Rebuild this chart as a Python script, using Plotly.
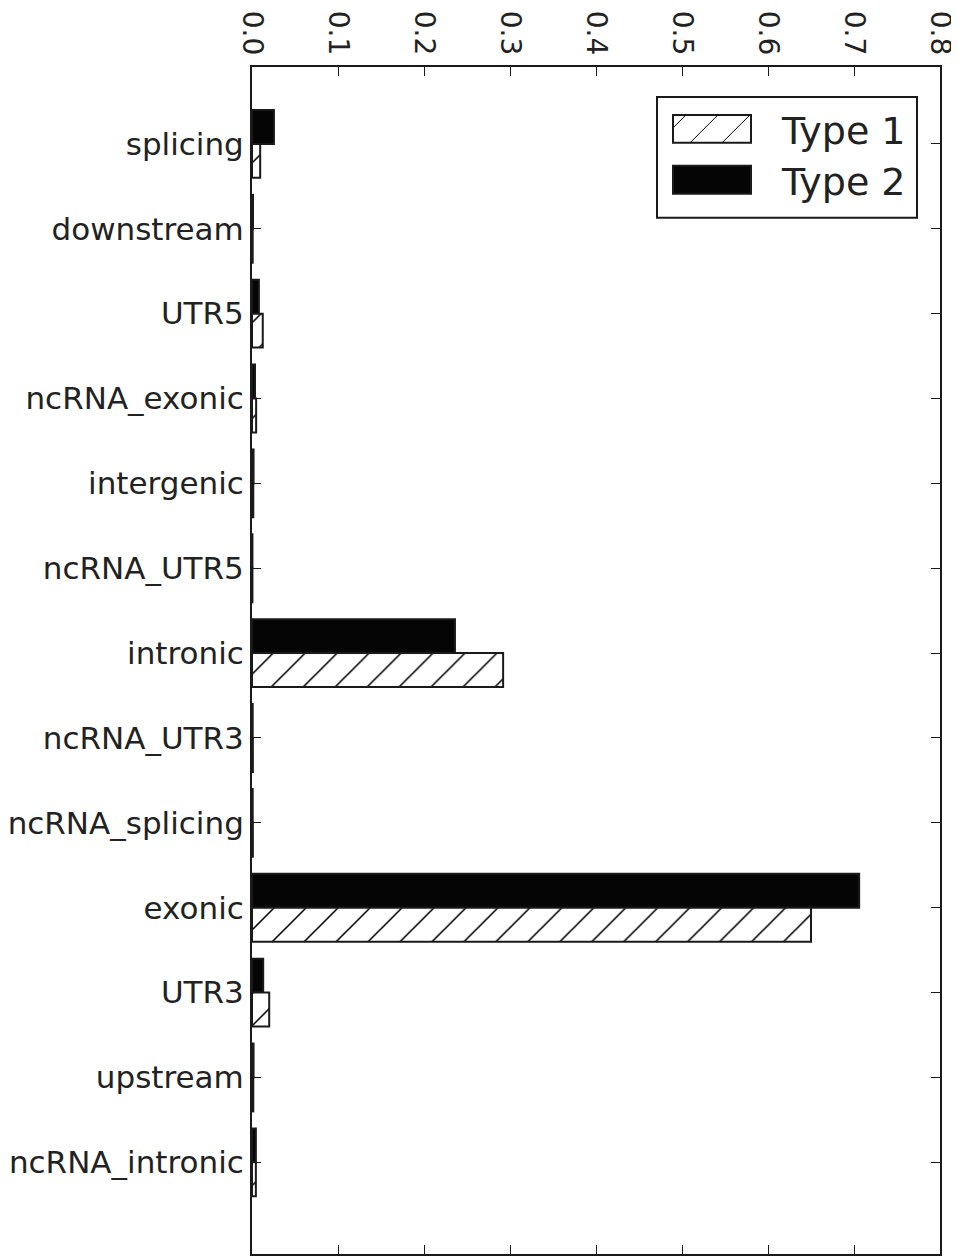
import plotly.graph_objects as go

categories = ['splicing', 'downstream', 'UTR5', 'ncRNA_exonic', 'intergenic',
              'ncRNA_UTR5', 'intronic', 'ncRNA_UTR3', 'ncRNA_splicing', 'exonic',
              'UTR3', 'upstream', 'ncRNA_intronic']
type1 = [0.0095, 0.0008, 0.0125, 0.0048, 0.0015, 0.0005, 0.292, 0.0010, 0.0010,
         0.650, 0.020, 0.0015, 0.0045]
type2 = [0.0255, 0.0012, 0.0080, 0.0035, 0.0018, 0.0005, 0.236, 0.0008, 0.0008,
         0.706, 0.013, 0.0018, 0.0045]
xticks = [0.0, 0.1, 0.2, 0.3, 0.4, 0.5, 0.6, 0.7, 0.8]
legend_labels = ['Type 1', 'Type 2']

FONT = 'DejaVu Sans'
TXT = '#222222'
EDGE = '#1a1a1a'

fig = go.Figure()
fig.add_trace(go.Bar(
    y=categories, x=type2, orientation='h', name=legend_labels[1],
    width=0.4, offset=-0.4,
    marker=dict(color='#050505', line=dict(color=EDGE, width=2)),
    showlegend=False))
fig.add_trace(go.Bar(
    y=categories, x=type1, orientation='h', name=legend_labels[0],
    width=0.4, offset=0.0,
    marker=dict(color='white', line=dict(color=EDGE, width=2),
                pattern=dict(shape='/', fgcolor='#000000', bgcolor='white',
                             fgopacity=1, size=22.6, solidity=0.07)),
    showlegend=False))

# page is offset by the default 8px body margin
OFF = 8
W, H = 959 - OFF, 1256 - OFF
L, R, T, B = 252 - OFF, 19, 67 - OFF, 0
pw, ph = W - L - R, H - T - B


def px(xp):
    return (xp - OFF - L) / pw


def py(yp):
    return 1 - (yp - OFF - T) / ph


shapes = []
# legend frame
shapes.append(dict(type='rect', xref='paper', yref='paper',
                   x0=px(657), x1=px(917), y0=py(218), y1=py(97),
                   line=dict(color=EDGE, width=2), fillcolor='white', layer='above'))
# patch 1 (hatched)
shapes.append(dict(type='rect', xref='paper', yref='paper',
                   x0=px(673), x1=px(751), y0=py(143), y1=py(115),
                   line=dict(color=EDGE, width=2), fillcolor='white', layer='above'))
for (xa, ya, xb, yb) in [(674, 127, 686, 115), (690, 143, 718, 115), (722, 143, 750, 115)]:
    shapes.append(dict(type='line', xref='paper', yref='paper',
                       x0=px(xa), y0=py(ya), x1=px(xb), y1=py(yb),
                       line=dict(color='#000000', width=1), layer='above'))
# patch 2 (solid)
shapes.append(dict(type='rect', xref='paper', yref='paper',
                   x0=px(673), x1=px(751), y0=py(194), y1=py(166),
                   line=dict(color=EDGE, width=2), fillcolor='#050505', layer='above'))

annotations = []
for lab, yc in zip(legend_labels, [131, 182]):
    annotations.append(dict(text=lab, xref='paper', yref='paper', x=px(779), y=py(yc),
                            xanchor='left', yanchor='middle', showarrow=False,
                            font=dict(family=FONT, size=38, color=TXT)))

fig.update_layout(
    width=W, height=H,
    margin=dict(l=L, r=R, t=T, b=B, pad=0),
    paper_bgcolor='white', plot_bgcolor='white',
    barmode='overlay',
    font=dict(family=FONT, color=TXT),
    shapes=shapes, annotations=annotations,
    xaxis=dict(side='top', range=[0, 0.8], tickvals=xticks,
               ticktext=['%.1f' % v for v in xticks], tickangle=90,
               ticks='inside', ticklen=9, tickwidth=1, tickcolor=EDGE,
               showline=True, linewidth=2, linecolor=EDGE, mirror='allticks',
               showgrid=False, zeroline=False,
               tickfont=dict(family=FONT, size=28, color=TXT)),
    yaxis=dict(type='category', categoryorder='array', categoryarray=categories,
               range=[13.08, -0.906],
               ticks='inside', ticklen=9, tickwidth=1, tickcolor=EDGE,
               showline=True, linewidth=2, linecolor=EDGE, mirror='allticks',
               showgrid=False, zeroline=False,
               tickfont=dict(family=FONT, size=31, color=TXT)),
)

fig.write_html('out.html')
